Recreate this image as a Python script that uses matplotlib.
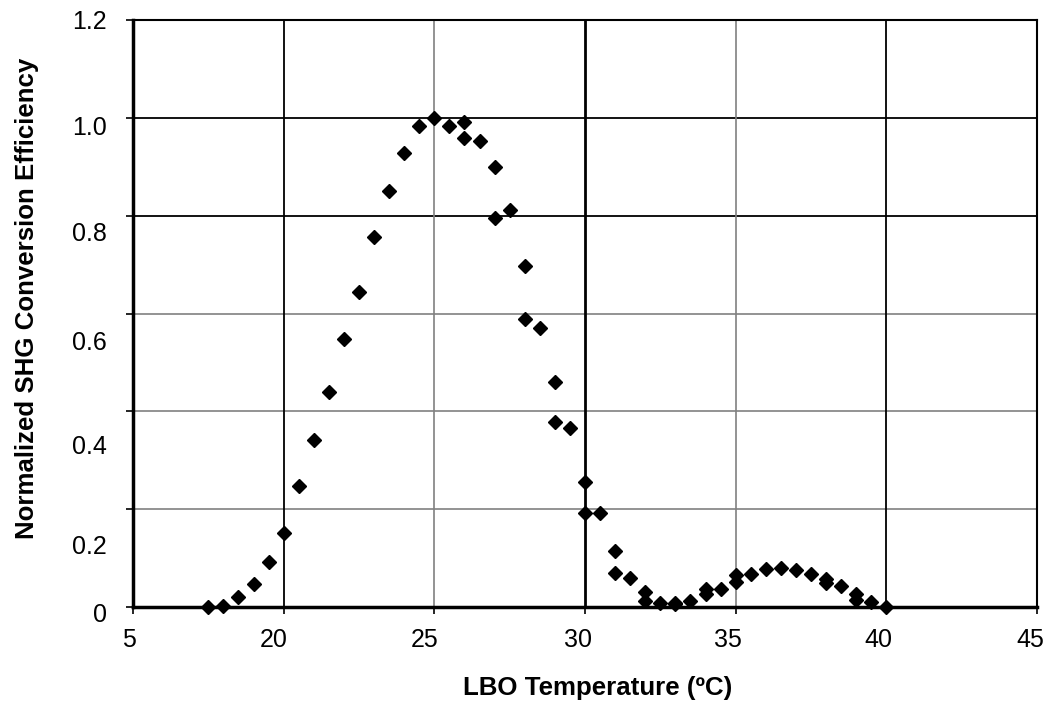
import matplotlib
matplotlib.use("Agg")
import matplotlib.pyplot as plt
import matplotlib.transforms as mtransforms

plt.rcParams['font.family'] = ['Liberation Sans', 'DejaVu Sans']

# températures (°C) et efficacité normalisée
temperature = [17.5, 18.0, 18.5, 19.0, 19.5, 20.0, 20.5, 21.0, 21.5, 22.0,
               22.5, 23.0, 23.5, 24.0, 24.5, 25.0, 25.5, 26.0, 26.0, 26.5,
               27.0, 27.0, 27.5, 28.0, 28.0, 28.5, 29.0, 29.0, 29.5, 30.0,
               30.0, 30.5, 31.0, 31.0, 31.5, 32.0, 32.0, 32.5, 33.0, 33.0,
               33.5, 34.0, 34.0, 34.5, 35.0, 35.0, 35.5, 36.0, 36.5, 37.0,
               37.5, 38.0, 38.0, 38.5, 39.0, 39.0, 39.5, 40.0]
efficacite = [0.000, 0.003, 0.021, 0.048, 0.091, 0.152, 0.247, 0.341, 0.439, 0.548,
              0.643, 0.756, 0.850, 0.929, 0.984, 1.000, 0.984, 0.992, 0.959, 0.953,
              0.899, 0.796, 0.811, 0.698, 0.589, 0.570, 0.460, 0.378, 0.366, 0.256,
              0.192, 0.192, 0.115, 0.070, 0.060, 0.031, 0.012, 0.009, 0.009, 0.006,
              0.013, 0.037, 0.026, 0.037, 0.065, 0.051, 0.067, 0.078, 0.079, 0.075,
              0.067, 0.057, 0.050, 0.042, 0.026, 0.014, 0.010, 0.000]

# graduations
xticks = [15, 20, 25, 30, 35, 40, 45]
xtick_labels = ["5", "20", "25", "30", "35", "40", "45"]
yticks = [0, 0.2, 0.4, 0.6, 0.8, 1.0, 1.2]
ytick_labels = ["0", "0.2", "0.4", "0.6", "0.8", "1.0", "1.2"]

# décalages (pixels) des étiquettes, comme sur l'original
x_shift = [-4, -10, -10, -7, -8, -8, -7]
y_shift = [8, 38, 36, 29, 18, 10, 2]

fig = plt.figure(figsize=(10.58, 7.15), dpi=100)
ax = fig.add_axes([133 / 1058, 108 / 715, 904 / 1058, 587 / 715])
ax.set_xlim(15, 45)
ax.set_ylim(0, 1.2)

# quadrillage
hcol = {0.2: "#808080", 0.4: "#808080", 0.6: "#808080", 0.8: "black", 1.0: "black"}
for y, c in hcol.items():
    ax.axhline(y, color=c, lw=1.3 if c == "black" else 1.2, zorder=1)
vcol = {20: "black", 25: "#808080", 30: "black", 35: "#808080", 40: "black"}
for x, c in vcol.items():
    ax.axvline(x, color=c, lw=(2.0 if x == 30 else 1.3) if c == "black" else 1.2, zorder=1)

ax.plot(temperature, efficacite, linestyle="none", marker="D", markersize=7,
        color="black", zorder=3, clip_on=False)

for s in ["top", "right"]:
    ax.spines[s].set_linewidth(1.5)
for s in ["left", "bottom"]:
    ax.spines[s].set_linewidth(2.5)

ax.set_xticks(xticks)
ax.set_yticks(yticks)
ax.set_xticklabels([])
ax.set_yticklabels([])
ax.tick_params(direction="out", length=5, width=1.2, color="black")
ax.tick_params(axis="x", top=False)
ax.tick_params(axis="y", right=False)

# étiquettes placées à la main
tx = mtransforms.blended_transform_factory(ax.transData, ax.transAxes)
for v, t, dx in zip(xticks, xtick_labels, x_shift):
    off = mtransforms.ScaledTranslation(dx / 100, -33 / 100, fig.dpi_scale_trans)
    ax.text(v, 0, t, transform=tx + off, ha="center", va="center", fontsize=18)
ty = mtransforms.blended_transform_factory(ax.transAxes, ax.transData)
for v, t, dy in zip(yticks, ytick_labels, y_shift):
    off = mtransforms.ScaledTranslation(-26 / 100, -dy / 100, fig.dpi_scale_trans)
    ax.text(0, v, t, transform=ty + off, ha="right", va="center", fontsize=18)

fig.text(598 / 1058, 1 - 688 / 715, "LBO Temperature (ºC)", ha="center", va="center",
         fontsize=18.6, fontweight="bold")
fig.text(27 / 1058, 1 - 298 / 715, "Normalized SHG Conversion Efficiency", ha="center",
         va="center", rotation=90, fontsize=18.6, fontweight="bold")

fig.savefig("out.png", dpi=100)
